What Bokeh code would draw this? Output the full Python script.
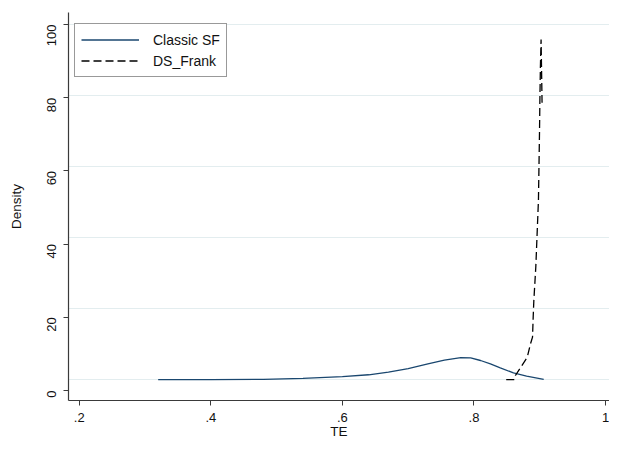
import math
from bokeh.plotting import figure
from bokeh.models import Range1d, FixedTicker, Grid, Legend, LegendItem
from bokeh.embed import file_html
from bokeh.resources import INLINE

# ---- data ----
te_classic = [0.32, 0.40, 0.48, 0.54, 0.60, 0.64, 0.67, 0.70, 0.73, 0.755,
              0.78, 0.795, 0.81, 0.825, 0.84, 0.86, 0.88, 0.906]
density_classic = [3.0, 3.0, 3.05, 3.3, 3.8, 4.3, 5.0, 6.0, 7.3, 8.3,
                   9.0, 8.9, 8.2, 7.3, 6.2, 4.8, 3.9, 3.05]

te_dsfrank = [0.849, 0.861, 0.863, 0.872, 0.881, 0.886, 0.889, 0.890, 0.891,
              0.894, 0.896, 0.898, 0.8996, 0.9002, 0.901, 0.902, 0.9035]
density_dsfrank = [3.0, 3.0, 4.1, 6.6, 9.1, 12.8, 14.6, 20.0, 24.6,
                   33.8, 42.9, 52.0, 70.4, 79.5, 88.6, 95.9, 78.6]

x_tick_values = [0.2, 0.4, 0.6, 0.8, 1.0]
x_tick_labels = [".2", ".4", ".6", ".8", "1"]
y_tick_values = [0, 20, 40, 60, 80, 100]
series_names = ["Classic SF", "DS_Frank"]

FONT = "Liberation Sans"
AXIS_COL = "#3a3a3a"
TXT_COL = "#111111"

p = figure(width=609, height=441, output_backend="svg", toolbar_location=None,
           x_range=Range1d(0.1837, 1.006), y_range=Range1d(-2.73, 103.28),
           min_border_left=68, min_border_right=0, min_border_top=12,
           min_border_bottom=41)
p.outline_line_color = None
p.background_fill_color = "white"
p.xgrid.visible = False
p.ygrid.visible = False

# grid drawn in its own (slightly shifted) frame, as in the reference
p.extra_y_ranges = {"grid": Range1d(-5.92, 103.38)}
g = Grid(dimension=1, ticker=FixedTicker(ticks=y_tick_values), y_range_name="grid",
         grid_line_color="#e3edef", grid_line_width=1)
p.add_layout(g)

r1 = p.line(te_classic, density_classic, line_color="#1a476f", line_width=1.3)
r2 = p.line(te_dsfrank, density_dsfrank, line_color="#000000", line_width=1.3,
            line_dash="8 4")

# axes
xa = p.xaxis[0]
xa.ticker = FixedTicker(ticks=x_tick_values)
xa.major_label_overrides = {v: l for v, l in zip(x_tick_values, x_tick_labels)}
xa.axis_label = "TE"
ya = p.yaxis[0]
ya.ticker = FixedTicker(ticks=y_tick_values)
ya.axis_label = "Density"
ya.major_label_orientation = math.pi / 2
for ax in (xa, ya):
    ax.minor_tick_line_color = None
    ax.major_tick_out = 5
    ax.major_tick_in = 0
    ax.axis_line_color = AXIS_COL
    ax.major_tick_line_color = AXIS_COL
    ax.axis_line_width = 1.2
    ax.major_label_text_font = FONT
    ax.major_label_text_font_size = "13px"
    ax.major_label_text_color = TXT_COL
    ax.axis_label_text_font = FONT
    ax.axis_label_text_font_size = "13.5px"
    ax.axis_label_text_font_style = "normal"
    ax.axis_label_text_color = TXT_COL
xa.major_label_standoff = 7
xa.axis_label_standoff = -1
ya.major_label_standoff = 12
ya.axis_label_standoff = 16

legend = Legend(items=[LegendItem(label=series_names[0], renderers=[r1]),
                       LegendItem(label=series_names[1], renderers=[r2])],
                location=(6, 323), orientation="vertical",
                padding=6, spacing=2, margin=0,
                glyph_width=58, glyph_height=19, label_height=19,
                label_standoff=14,
                label_text_font=FONT, label_text_font_size="14px",
                label_text_color=TXT_COL,
                border_line_color="#333333", border_line_width=1,
                background_fill_color="white", background_fill_alpha=1.0)
p.add_layout(legend)

open("out.html", "w").write(file_html(p, INLINE))
